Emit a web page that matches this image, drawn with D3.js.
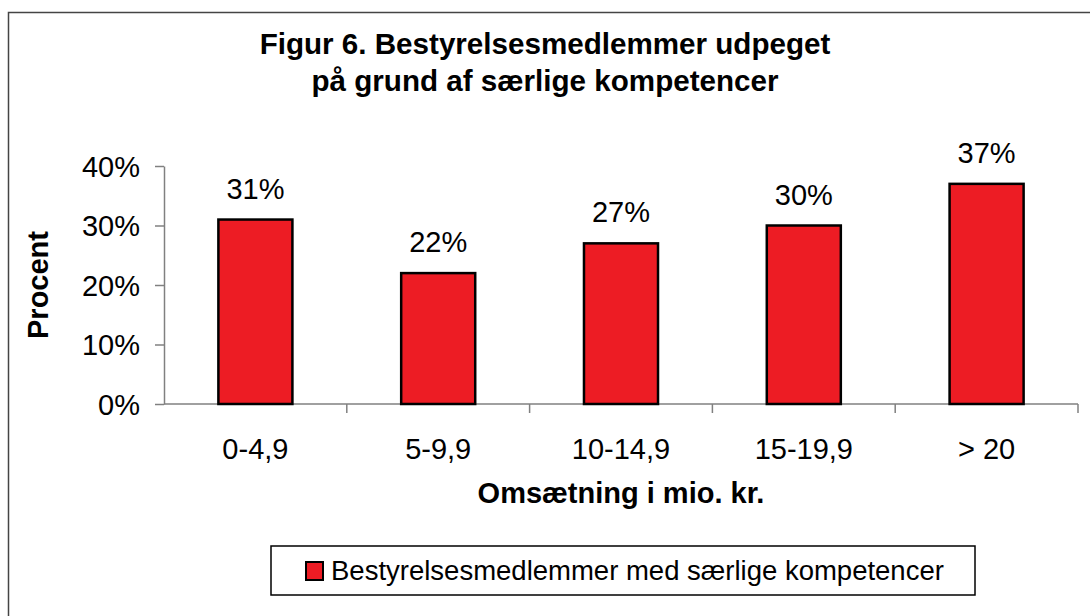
<!DOCTYPE html>
<html>
<head>
<meta charset="utf-8">
<script src="https://cdn.jsdelivr.net/npm/d3@7"></script>
<style>
  body { margin: 0; background: #fff; }
  svg { display: block; font-family: "Liberation Sans", Arial, sans-serif; }
</style>
</head>
<body>
<div id="chart"></div>
<script>
// Datos del gráfico
const categorias = ['0-4,9', '5-9,9', '10-14,9', '15-19,9', '> 20'];
const valores = [0.31, 0.22, 0.27, 0.30, 0.37];
const ticksY = [0, 0.1, 0.2, 0.3, 0.4];
const tituloLineas = ['Figur 6. Bestyrelsesmedlemmer udpeget', 'på grund af særlige kompetencer'];
const serieNombre = 'Bestyrelsesmedlemmer med særlige kompetencer';

const width = 1090, height = 616;
const margin = { top: 166, right: 12, bottom: 212, left: 164 };
const rojo = '#ED1C24';
const gris = '#808080';
const fs = 29;

const svg = d3.select('#chart').append('svg')
  .attr('width', width)
  .attr('height', height);

// Marco exterior (solo se ven izquierda y arriba)
svg.append('rect')
  .attr('x', 8.5).attr('y', 12.5)
  .attr('width', width + 20).attr('height', height + 20)
  .attr('fill', 'none')
  .attr('stroke', '#444')
  .attr('stroke-width', 1.5);

// Título
svg.append('g')
  .selectAll('text')
  .data(tituloLineas)
  .join('text')
    .attr('x', 545)
    .attr('y', (d, i) => 54 + i * 37)
    .attr('text-anchor', 'middle')
    .attr('font-weight', 'bold')
    .attr('font-size', 29.6)
    .text(d => d);

const x = d3.scaleBand()
  .domain(categorias)
  .range([margin.left, width - margin.right])
  .paddingInner(0.595)
  .paddingOuter(0.2975);

const y = d3.scaleLinear()
  .domain([0, 0.4])
  .range([height - margin.bottom, margin.top]);

// Eje Y
const gy = svg.append('g')
  .attr('transform', `translate(${margin.left},0)`)
  .call(d3.axisLeft(y)
    .tickValues(ticksY)
    .tickFormat(d3.format('.0%'))
    .tickSize(9)
    .tickSizeOuter(0)
    .tickPadding(15));
gy.select('.domain').attr('stroke', gris).attr('stroke-width', 1.5);
gy.selectAll('.tick line').attr('stroke', gris).attr('stroke-width', 1.5);
gy.selectAll('.tick text')
  .attr('font-size', fs)
  .attr('font-family', '"Liberation Sans", Arial, sans-serif')
  .attr('fill', '#000')
  .attr('dy', '0.36em');

// Eje X
const y0 = y(0);
svg.append('line')
  .attr('x1', margin.left).attr('x2', width - margin.right)
  .attr('y1', y0).attr('y2', y0)
  .attr('stroke', gris).attr('stroke-width', 1.5);

// Marcas entre categorías
svg.append('g')
  .selectAll('line')
  .data(categorias)
  .join('line')
    .attr('x1', d => x(d) - x.step() * x.paddingOuter() + x.step())
    .attr('x2', d => x(d) - x.step() * x.paddingOuter() + x.step())
    .attr('y1', y0).attr('y2', y0 + 9)
    .attr('stroke', gris).attr('stroke-width', 1.5);

const gx = svg.append('g')
  .attr('transform', `translate(0,${y0})`)
  .call(d3.axisBottom(x).tickSize(0).tickPadding(34));
gx.select('.domain').remove();
gx.selectAll('.tick text')
  .attr('font-size', fs)
  .attr('font-family', '"Liberation Sans", Arial, sans-serif')
  .attr('fill', '#000');

// Barras
svg.append('g')
  .selectAll('rect')
  .data(valores)
  .join('rect')
    .attr('x', (d, i) => x(categorias[i]))
    .attr('y', d => y(d))
    .attr('width', x.bandwidth())
    .attr('height', d => y0 - y(d))
    .attr('fill', rojo)
    .attr('stroke', '#000')
    .attr('stroke-width', 2.5);

// Etiquetas de valor
svg.append('g')
  .selectAll('text')
  .data(valores)
  .join('text')
    .attr('x', (d, i) => x(categorias[i]) + x.bandwidth() / 2)
    .attr('y', d => y(d) - 21)
    .attr('text-anchor', 'middle')
    .attr('font-size', fs)
    .text(d => d3.format('.0%')(d));

// Títulos de ejes
svg.append('text')
  .attr('x', (margin.left + width - margin.right) / 2)
  .attr('y', 503)
  .attr('text-anchor', 'middle')
  .attr('font-weight', 'bold')
  .attr('font-size', fs)
  .text('Omsætning i mio. kr.');

svg.append('text')
  .attr('transform', `translate(48,${(y(0) + y(0.4)) / 2}) rotate(-90)`)
  .attr('text-anchor', 'middle')
  .attr('font-weight', 'bold')
  .attr('font-size', fs)
  .text('Procent');

// Leyenda
const leyenda = svg.append('g');
leyenda.append('rect')
  .attr('x', 271).attr('y', 546)
  .attr('width', 704).attr('height', 49)
  .attr('fill', '#fff')
  .attr('stroke', '#000')
  .attr('stroke-width', 1.5);
leyenda.append('rect')
  .attr('x', 306).attr('y', 562)
  .attr('width', 17).attr('height', 18)
  .attr('fill', rojo)
  .attr('stroke', '#000')
  .attr('stroke-width', 2);
leyenda.append('text')
  .attr('x', 331).attr('y', 580)
  .attr('font-size', 27.5)
  .text(serieNombre);
</script>
</body>
</html>
